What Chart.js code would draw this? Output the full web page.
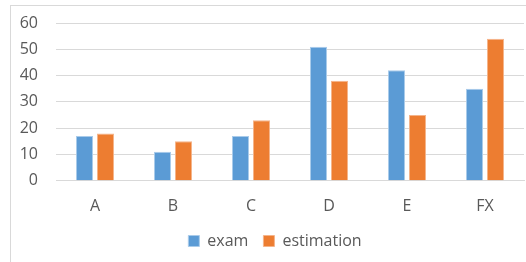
<!DOCTYPE html>
<html>
<head>
<meta charset="utf-8">
<script src="https://cdn.jsdelivr.net/npm/chart.js@4"></script>
<style>
  html, body { margin: 0; padding: 0; background: #fff; overflow: hidden; }
  #frame {
    position: absolute; left: 10px; top: 5px;
    width: 540px; height: 262px;
    border: 1px solid #d9d9d9; box-sizing: border-box;
  }
  #wrap { position: absolute; left: 0; top: 0; width: 538px; height: 260px; }
</style>
</head>
<body>
<div id="frame"><div id="wrap"><canvas id="chart"></canvas></div></div>
<script>
// grades and counts
const categories = ['A', 'B', 'C', 'D', 'E', 'FX'];
const examValues = [17, 11, 17, 51, 42, 35];
const estimationValues = [18, 15, 23, 38, 25, 54];
const yTicks = [0, 10, 20, 30, 40, 50, 60];

const textColor = '#595959';
const fontFamily = "'Open Sans', 'Liberation Sans', sans-serif";

const config = {
    type: 'bar',
    data: {
        labels: categories,
        datasets: [{
            label: 'exam',
            data: examValues,
            backgroundColor: '#5B9BD5',
            borderColor: '#A9CBEA',
            borderWidth: 1,
            categoryPercentage: 0.54,
            barPercentage: 0.81
        }, {
            label: 'estimation',
            data: estimationValues,
            backgroundColor: '#ED7D31',
            borderColor: '#F5B48A',
            borderWidth: 1,
            categoryPercentage: 0.54,
            barPercentage: 0.81
        }]
    },
    options: {
        responsive: true,
        maintainAspectRatio: false,
        animation: false,
        layout: { padding: { top: 17, right: 10, bottom: 7, left: 0 } },
        scales: {
            x: {
                grid: { display: false, drawTicks: false },
                border: { display: true, color: '#d9d9d9' },
                // labels stay put, the axis box is shortened so the legend sits closer
                afterFit: function(scale) { scale.height -= 14; },
                ticks: {
                    color: textColor,
                    padding: 16,
                    font: { family: fontFamily, size: 16 }
                }
            },
            y: {
                min: 0,
                max: 60,
                afterFit: function(scale) { scale.width = 45; },
                afterBuildTicks: function(scale) {
                    scale.ticks = yTicks.map(v => ({ value: v }));
                },
                // invisible tick marks push the labels away from the plot
                grid: { color: '#d9d9d9', drawTicks: true, tickLength: 18, tickColor: 'rgba(0,0,0,0)' },
                border: { display: false },
                ticks: {
                    color: textColor,
                    padding: 0,
                    font: { family: fontFamily, size: 16 }
                }
            },
            // empty spacer on the right so the legend is centred like the original
            spacer: {
                type: 'linear',
                position: 'right',
                afterFit: function(scale) { scale.width = 15; },
                grid: { display: false, drawTicks: false },
                border: { display: false },
                ticks: { display: false }
            }
        },
        plugins: {
            legend: {
                position: 'bottom',
                labels: {
                    color: textColor,
                    boxWidth: 11,
                    boxHeight: 11,
                    padding: 15,
                    font: { family: fontFamily, size: 16 }
                }
            },
            tooltip: { enabled: false }
        }
    }
};

const ctx = document.getElementById('chart').getContext('2d');
const gradeChart = new Chart(ctx, config);
</script>
</body>
</html>
